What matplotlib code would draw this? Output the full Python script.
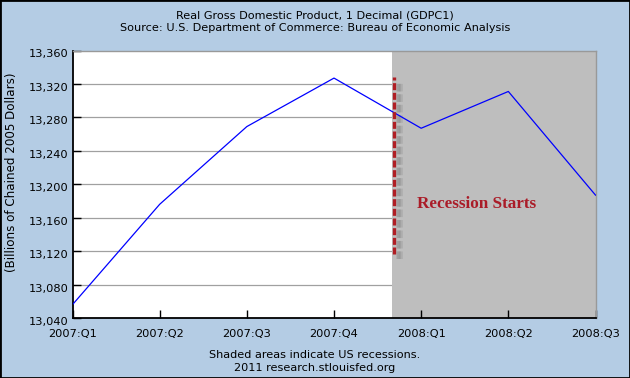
import matplotlib
matplotlib.use("Agg")
import matplotlib.pyplot as plt
import matplotlib.transforms as mtrans

quarters = ["2007:Q1", "2007:Q2", "2007:Q3", "2007:Q4", "2008:Q1", "2008:Q2", "2008:Q3"]
gdp = [13056, 13176, 13269, 13327, 13267, 13311, 13187]
yticks = [13040, 13080, 13120, 13160, 13200, 13240, 13280, 13320, 13360]
recession_start = 3.66
marker_x = 3.69
marker_range = (13116, 13328)

bg = "#b4cce4"
fig = plt.figure(figsize=(6.3, 3.78), dpi=100, facecolor=bg)
ax = fig.add_axes([72.5/630, 1-318/378, (595.5-72.5)/630, (318-50.5)/378])
ax.set_facecolor("white")

x = list(range(len(quarters)))
ax.set_xlim(0, len(quarters)-1)
ax.set_ylim(yticks[0], yticks[-1])
for t in yticks[1:-1]:
    ax.axhline(t, color="#a0a0a0", lw=0.9, zorder=1)
ax.axvspan(recession_start, len(quarters)-1, color="#bebebe", zorder=1.5, lw=0)
ax.plot(x, gdp, color="#0000ff", lw=0.9, zorder=3)

# shadow then dashed marker
for off, a in [(0.045, 0.3), (0.06, 0.4), (0.075, 0.3)]:
    ax.plot([marker_x+off]*2, [marker_range[0]-5, marker_range[1]-5], color="#888888", lw=2.6,
            dashes=(2.1, 0.8), alpha=a, zorder=2, solid_capstyle="butt")
ax.plot([marker_x]*2, list(marker_range), color="#b01e24", lw=2.4, dashes=(2.1, 0.8),
        zorder=4, solid_capstyle="butt")
ax.text(3.95, 13176, "Recession Starts", family="Liberation Serif", fontweight="bold",
        fontsize=12.3, color="#aa1c28", va="center", ha="left", zorder=5)

ax.set_xticks(x)
ax.set_xticklabels(quarters)
ax.set_yticks(yticks)
ax.set_yticklabels([f"{v:,}" for v in yticks])
ax.tick_params(direction="in", length=6, width=1, color="black", labelsize=8.2)
ax.tick_params(axis="x", pad=8)
ax.tick_params(axis="y", pad=3)
shift = mtrans.ScaledTranslation(0, -3/100, fig.dpi_scale_trans)
for lab in ax.get_yticklabels():
    lab.set_transform(lab.get_transform() + shift)
for s in ["left", "bottom"]:
    ax.spines[s].set_color("black")
    ax.spines[s].set_linewidth(1.3)
for s in ["top", "right"]:
    ax.spines[s].set_color("#999999")
    ax.spines[s].set_linewidth(1)

fig.text(12/630, 1-172/378, "(Billions of Chained 2005 Dollars)", rotation=90,
         ha="center", va="center", fontsize=8.6)

fig.text(0.5, 1-15/378, "Real Gross Domestic Product, 1 Decimal (GDPC1)", ha="center", va="center", fontsize=8.1)
fig.text(0.5, 1-28/378, "Source: U.S. Department of Commerce: Bureau of Economic Analysis", ha="center", va="center", fontsize=8.1)
fig.text(0.5, 1-355/378, "Shaded areas indicate US recessions.", ha="center", va="center", fontsize=8.1)
fig.text(0.5, 1-368/378, "2011 research.stlouisfed.org", ha="center", va="center", fontsize=8.1)

border = plt.Rectangle((0, 0), 1, 1, transform=fig.transFigure, fill=False, edgecolor="black", lw=2)
fig.patches.append(border)

fig.savefig("out.png", dpi=100, facecolor=bg)
